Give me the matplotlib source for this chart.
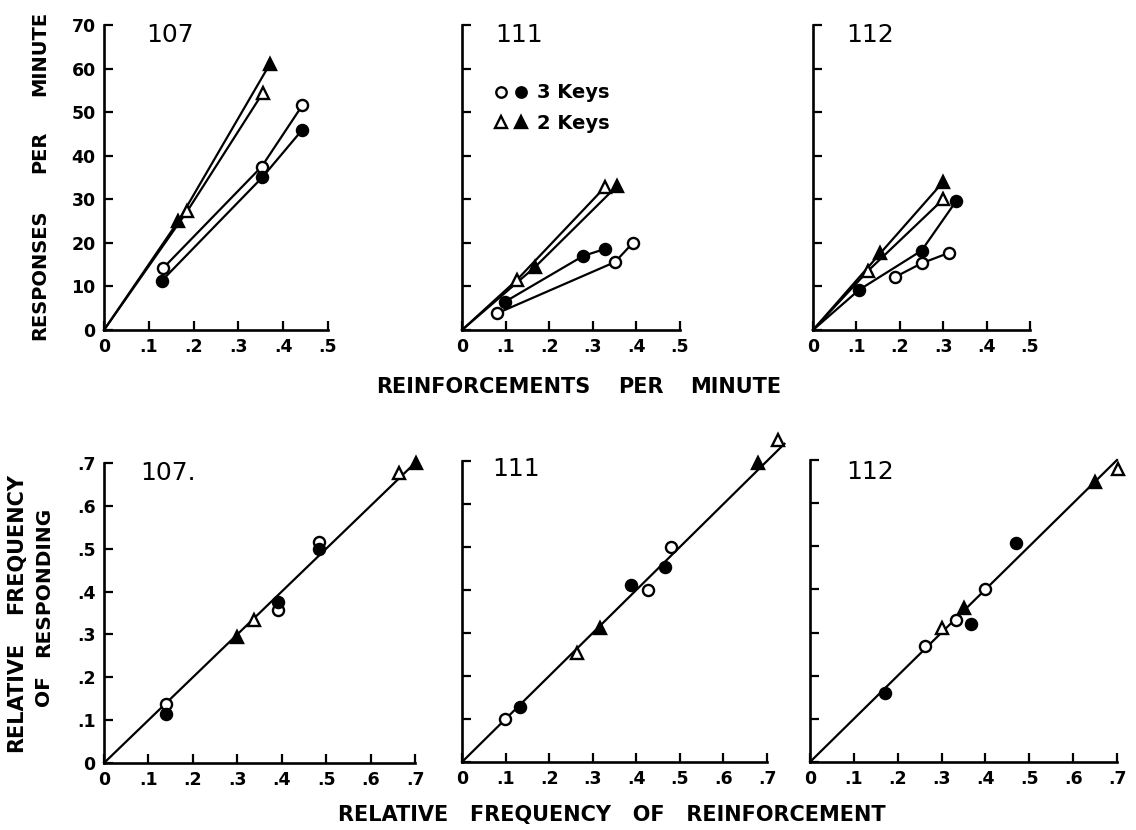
import numpy as np
import matplotlib
matplotlib.use("Agg")
import matplotlib.pyplot as plt
from matplotlib.lines import Line2D
from matplotlib.legend_handler import HandlerTuple

plt.rcParams['font.family'] = ['DejaVu Sans']
plt.rcParams['font.weight'] = 'bold'

# ---------------- data ----------------
subjects = ["107", "111", "112"]

# Top row: responses per minute vs reinforcements per minute
top_open_circle_x = [[0.132, 0.352, 0.443], [0.080, 0.351, 0.392], [0.190, 0.250, 0.313]]
top_open_circle_y = [[14.2, 37.5, 51.6], [3.8, 15.6, 20.0], [12.2, 15.3, 17.7]]
top_fill_circle_x = [[0.129, 0.353, 0.443], [0.099, 0.278, 0.328], [0.106, 0.250, 0.330]]
top_fill_circle_y = [[11.3, 35.0, 46.0], [6.5, 17.0, 18.6], [9.2, 18.2, 29.6]]
top_open_tri_x = [[0.186, 0.355], [0.126, 0.328], [0.127, 0.300]]
top_open_tri_y = [[27.3, 54.5], [11.5, 32.8], [13.6, 30.0]]
top_fill_tri_x = [[0.166, 0.370], [0.168, 0.355], [0.155, 0.300]]
top_fill_tri_y = [[25.0, 61.0], [14.5, 33.0], [17.6, 34.0]]
# whether each curve is drawn from the origin (open circ, filled circ, open tri, filled tri)
top_from_origin = [[False, False, True, True], [False, False, True, True], [False, True, True, True]]

top_xticks = [0, 0.1, 0.2, 0.3, 0.4, 0.5]
top_xticklabels = ["0", ".1", ".2", ".3", ".4", ".5"]
top_yticks = [0, 10, 20, 30, 40, 50, 60, 70]
top_yticklabels = ["0", "10", "20", "30", "40", "50", "60", "70"]

# Bottom row: relative frequency of responding vs relative frequency of reinforcement
bot_open_circle_x = [[0.139, 0.392, 0.483], [0.099, 0.427, 0.480], [0.263, 0.333, 0.400]]
bot_open_circle_y = [[0.138, 0.357, 0.515], [0.100, 0.400, 0.500], [0.270, 0.330, 0.400]]
bot_fill_circle_x = [[0.139, 0.392, 0.483], [0.133, 0.388, 0.466], [0.170, 0.367, 0.470]]
bot_fill_circle_y = [[0.114, 0.375, 0.499], [0.128, 0.412, 0.454], [0.160, 0.320, 0.508]]
bot_open_tri_x = [[0.338, 0.663], [0.264, 0.725], [0.300, 0.703]]
bot_open_tri_y = [[0.333, 0.676], [0.254, 0.750], [0.310, 0.680]]
bot_fill_tri_x = [[0.300, 0.703], [0.317, 0.680], [0.350, 0.650]]
bot_fill_tri_y = [[0.294, 0.700], [0.312, 0.696], [0.357, 0.650]]
# matching line y = x, drawn up to these values
bot_line_end = [0.70, 0.74, 0.70]

bot_ticks = [0, 0.1, 0.2, 0.3, 0.4, 0.5, 0.6, 0.7]
bot_ticklabels = ["0", ".1", ".2", ".3", ".4", ".5", ".6", ".7"]

# ---------------- figure ----------------
W, H = 1136, 830
fig = plt.figure(figsize=(W / 100, H / 100), dpi=100)

def px_axes(x0, x1, ytop, ybot):
    return fig.add_axes([x0 / W, 1 - ybot / H, (x1 - x0) / W, (ybot - ytop) / H])

top_boxes = [(104, 328, 25, 330), (462, 680, 25, 330), (813, 1030, 25, 330)]
bot_boxes = [(104, 415, 463, 763), (462, 767, 461, 762), (810, 1117, 460, 762)]

LW_SPINE = 1.9
LW = 1.6
MS_C = 8
MS_T = 9
MEW = 1.7

def style_axes(ax):
    for s in ["top", "right"]:
        ax.spines[s].set_visible(False)
    for s in ["left", "bottom"]:
        ax.spines[s].set_linewidth(LW_SPINE)
    ax.tick_params(direction="in", length=6.5, width=1.6, labelsize=12.5, pad=6)
    for lab in ax.get_xticklabels() + ax.get_yticklabels():
        lab.set_fontweight("bold")

def draw_series(ax, x, y, marker, filled, origin, ms, line=True):
    x = np.asarray(x, float)
    y = np.asarray(y, float)
    if line:
        lx = np.r_[0.0, x] if origin else x
        ly = np.r_[0.0, y] if origin else y
        ax.plot(lx, ly, color="black", lw=LW, clip_on=False, zorder=2)
    ax.plot(x, y, linestyle="none", marker=marker, ms=ms,
            mfc="black" if filled else "white", mec="black", mew=MEW,
            clip_on=False, zorder=3)

# top row
for i, box in enumerate(top_boxes):
    ax = px_axes(*box)
    ax.set_xlim(0, 0.5)
    ax.set_ylim(0, 70)
    ax.set_xticks(top_xticks)
    ax.set_xticklabels(top_xticklabels)
    ax.set_yticks(top_yticks)
    if i == 0:
        ax.set_yticklabels(top_yticklabels)
    else:
        ax.set_yticklabels([])
    style_axes(ax)
    fo = top_from_origin[i]
    draw_series(ax, top_open_circle_x[i], top_open_circle_y[i], "o", False, fo[0], MS_C)
    draw_series(ax, top_fill_circle_x[i], top_fill_circle_y[i], "o", True, fo[1], MS_C)
    draw_series(ax, top_open_tri_x[i], top_open_tri_y[i], "^", False, fo[2], MS_T)
    draw_series(ax, top_fill_tri_x[i], top_fill_tri_y[i], "^", True, fo[3], MS_T)
    lab_x = [0.295, 0.26, 0.263][i]
    ax.text(lab_x, 0.967, subjects[i], transform=ax.transAxes, ha="center", va="center",
            fontsize=18, fontweight="normal")
    if i == 1:
        h1 = (Line2D([], [], ls="none", marker="o", ms=7.5, mfc="white", mec="black", mew=MEW),
              Line2D([], [], ls="none", marker="o", ms=7.5, mfc="black", mec="black", mew=MEW))
        h2 = (Line2D([], [], ls="none", marker="^", ms=8.5, mfc="white", mec="black", mew=MEW),
              Line2D([], [], ls="none", marker="^", ms=8.5, mfc="black", mec="black", mew=MEW))
        leg = ax.legend([h1, h2], ["3 Keys", "2 Keys"],
                        handler_map={tuple: HandlerTuple(ndivide=None, pad=0.3)},
                        loc="upper left", bbox_to_anchor=(0.065, 0.866), frameon=False,
                        handlelength=1.8, handletextpad=0.45, labelspacing=0.6,
                        prop={"size": 14, "weight": "bold"})

# bottom row
for i, box in enumerate(bot_boxes):
    ax = px_axes(*box)
    ax.set_xlim(0, 0.7)
    ax.set_ylim(0, 0.7)
    ax.set_xticks(bot_ticks)
    ax.set_xticklabels(bot_ticklabels)
    ax.set_yticks(bot_ticks)
    if i == 0:
        ax.set_yticklabels(bot_ticklabels)
    else:
        ax.set_yticklabels([])
    style_axes(ax)
    ax.plot([0, bot_line_end[i]], [0, bot_line_end[i]], color="black", lw=LW,
            clip_on=False, zorder=2)
    draw_series(ax, bot_open_circle_x[i], bot_open_circle_y[i], "o", False, False, MS_C, line=False)
    draw_series(ax, bot_fill_circle_x[i], bot_fill_circle_y[i], "o", True, False, MS_C, line=False)
    draw_series(ax, bot_open_tri_x[i], bot_open_tri_y[i], "^", False, False, MS_T, line=False)
    draw_series(ax, bot_fill_tri_x[i], bot_fill_tri_y[i], "^", True, False, MS_T, line=False)
    lab_x = [0.206, 0.177, 0.195][i]
    lab_y = [0.967, 0.973, 0.96][i]
    txt = subjects[i] + ("." if i == 0 else "")
    ax.text(lab_x, lab_y, txt, transform=ax.transAxes, ha="center", va="center",
            fontsize=18, fontweight="normal")

# axis titles
def ftext(xp, yp, s, **kw):
    fig.text(xp / W, 1 - yp / H, s, ha="center", va="center", fontweight="bold", **kw)

ftext(40, 275, "RESPONSES", rotation=90, fontsize=14)
ftext(40, 152, "PER", rotation=90, fontsize=14)
ftext(40, 53, "MINUTE", rotation=90, fontsize=14)

ftext(483, 387, "REINFORCEMENTS", fontsize=15)
ftext(641, 387, "PER", fontsize=15)
ftext(736, 387, "MINUTE", fontsize=15)

ftext(16, 697, "RELATIVE", rotation=90, fontsize=15)
ftext(16, 543, "FREQUENCY", rotation=90, fontsize=15)
ftext(44, 691, "OF", rotation=90, fontsize=14.5)
ftext(44, 582, "RESPONDING", rotation=90, fontsize=14.5)

ftext(612, 815, "RELATIVE   FREQUENCY   OF   REINFORCEMENT", fontsize=15)

fig.savefig("out.png", dpi=100, facecolor="white")
